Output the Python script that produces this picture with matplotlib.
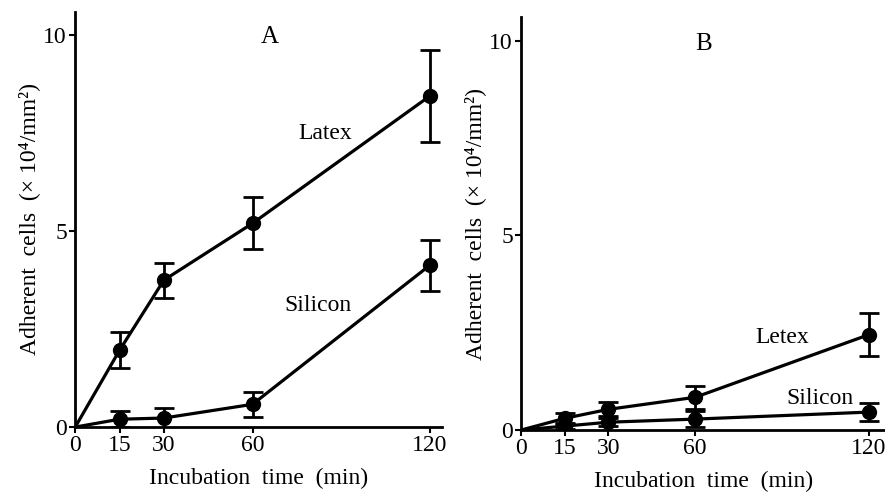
import matplotlib
matplotlib.use("Agg")
import matplotlib.pyplot as plt

plt.rcParams['font.family'] = ['Liberation Serif', 'DejaVu Serif']

# incubation time (min)
times = [0, 15, 30, 60, 120]

# panel A
latex_a = [0, 1.96, 3.75, 5.2, 8.45]
latex_a_err = [0, 0.46, 0.45, 0.66, 1.18]
silicon_a = [0, 0.2, 0.23, 0.58, 4.13]
silicon_a_err = [0, 0.2, 0.25, 0.32, 0.65]

# panel B
latex_b = [0, 0.3, 0.53, 0.84, 2.45]
latex_b_err = [0, 0.14, 0.18, 0.3, 0.55]
silicon_b = [0, 0.1, 0.2, 0.28, 0.46]
silicon_b_err = [0, 0.08, 0.1, 0.2, 0.23]

tick_labels = ['0', '15', '30', '60', '120']


def draw_panel(ax, series, labels, letter, letter_pos, xmax):
    for (y, err), (txt, pos) in zip(series, labels):
        ax.errorbar(times[1:], y[1:], yerr=err[1:], fmt='none', ecolor='black',
                    elinewidth=2, capsize=7, capthick=2, zorder=2)
        ax.plot(times, y, color='black', lw=2.3, zorder=3)
        ax.plot(times[1:], y[1:], 'o', color='black', ms=10, zorder=4)
        ax.text(pos[0], pos[1], txt, fontsize=17, ha='center', va='center')
    ax.text(letter_pos[0], letter_pos[1], letter, fontsize=18, ha='center', va='center')
    ax.set_xlim(0, xmax)
    ax.set_ylim(0, 10.6)
    ax.set_xticks(times)
    ax.set_xticklabels(tick_labels)
    ax.set_yticks([0, 5, 10])
    ax.spines['top'].set_visible(False)
    ax.spines['right'].set_visible(False)
    ax.spines['left'].set_linewidth(2)
    ax.spines['bottom'].set_linewidth(2)
    ax.tick_params(direction='out', length=4, width=1.5, labelsize=17, pad=2)
    ax.set_xlabel('Incubation  time  (min)', fontsize=17, labelpad=8)
    ax.set_ylabel('Adherent  cells  (× 10⁴/mm²)', fontsize=17, labelpad=2)


fig = plt.figure(figsize=(8.85, 4.92), dpi=100)
ax1 = fig.add_axes([0.085, 0.132, 0.414, 0.844])
ax2 = fig.add_axes([0.589, 0.126, 0.411, 0.839])

draw_panel(ax1, [(latex_a, latex_a_err), (silicon_a, silicon_a_err)],
           [('Latex', (84.5, 7.5)), ('Silicon', (82, 3.1))], 'A', (66, 9.95), 124)
draw_panel(ax2, [(latex_b, latex_b_err), (silicon_b, silicon_b_err)],
           [('Letex', (90, 2.38)), ('Silicon', (103, 0.82))], 'B', (63, 9.9), 125.5)

fig.savefig('out.png', dpi=100)
